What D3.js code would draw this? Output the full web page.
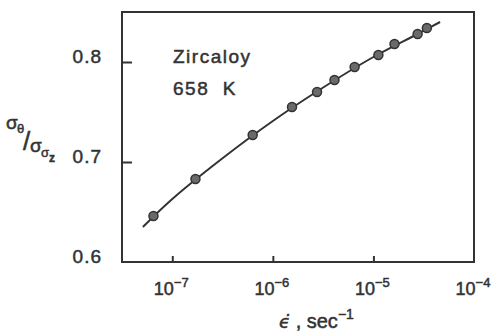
<!DOCTYPE html>
<html><head><meta charset="utf-8">
<script src="https://cdn.jsdelivr.net/npm/d3@7"></script>
<style>
html,body{margin:0;padding:0;background:#fff;}
svg{display:block;font-family:"Liberation Sans",Arial,sans-serif;}
svg text{stroke:#333;stroke-width:0.5px;}
</style></head>
<body>
<script>
// measured points: strain rate (1/s) and stress ratio
const strainRate = [6.5e-8, 1.7e-7, 6.3e-7, 1.55e-6, 2.75e-6, 4.1e-6, 6.5e-6, 1.12e-5, 1.62e-5, 2.75e-5, 3.4e-5];
const stressRatio = [0.646, 0.683, 0.727, 0.755, 0.770, 0.782, 0.795, 0.807, 0.818, 0.828, 0.834];
// fitted curve
const fitRate = [5.1e-8, 1e-7, 3e-7, 1e-6, 3e-6, 1e-5, 2.75e-5, 4.6e-5];
const fitRatio = [0.635, 0.663, 0.702, 0.741, 0.773, 0.805, 0.828, 0.840];
const xTicks = [1e-7, 1e-6, 1e-5, 1e-4];
const xTickExp = ["\u22127", "\u22126", "\u22125", "\u22124"];
const yTicks = [0.6, 0.7, 0.8];

const W = 498, H = 333;
const L = 122, R = 474, T = 12, B = 262;
const ink = "#333";

const svg = d3.select("body").append("svg").attr("width", W).attr("height", H);
const x = d3.scaleLog().domain([Math.pow(10, -7.5), 1e-4]).range([L, R]);
const y = d3.scaleLinear().domain([0.6, 0.85]).range([B, T]);

// frame
svg.append("rect").attr("x", L).attr("y", T).attr("width", R - L).attr("height", B - T)
  .attr("fill", "none").attr("stroke", ink).attr("stroke-width", 2);

// x axis ticks (inward)
const xa = svg.append("g").attr("transform", `translate(0,${B})`)
  .call(d3.axisBottom(x).tickValues(xTicks.slice(0, 3)).tickSize(-6).tickFormat(""));
xa.select(".domain").remove();
xa.selectAll("line").attr("stroke", ink).attr("stroke-width", 2);

// y axis ticks (inward)
const ya = svg.append("g").attr("transform", `translate(${L},0)`)
  .call(d3.axisLeft(y).tickValues(yTicks.slice(1)).tickSize(-10).tickFormat(""));
ya.select(".domain").remove();
ya.selectAll("line").attr("stroke", ink).attr("stroke-width", 2);

// x tick labels
xTicks.forEach((v, i) => {
  const t = svg.append("text").attr("x", x(v) - 1).attr("y", 295).attr("text-anchor", "middle")
    .attr("fill", ink).attr("font-size", 18);
  t.append("tspan").text("10");
  t.append("tspan").attr("font-size", 13).attr("dy", -8).text(xTickExp[i]);
});

// y tick labels
yTicks.forEach(v => {
  svg.append("text").attr("x", 102).attr("y", y(v) + 1).attr("text-anchor", "end")
    .attr("fill", ink).attr("font-size", 19).attr("letter-spacing", 1).text(v.toFixed(1));
});

// curve
const pts = fitRate.map((r, i) => [x(r), y(fitRatio[i])]);
svg.append("path").attr("d", d3.line().curve(d3.curveCatmullRom)(pts))
  .attr("fill", "none").attr("stroke", ink).attr("stroke-width", 2);

// points
svg.append("g").selectAll("circle").data(strainRate).join("circle")
  .attr("cx", d => x(d)).attr("cy", (d, i) => y(stressRatio[i])).attr("r", 4.5)
  .attr("fill", "#6a6a6a").attr("stroke", ink).attr("stroke-width", 1.5);

// annotations
svg.append("text").attr("x", 173).attr("y", 63).attr("fill", ink).attr("font-size", 19)
  .attr("letter-spacing", 1.5).text("Zircaloy");
svg.append("text").attr("x", 173).attr("y", 95).attr("fill", ink).attr("font-size", 19)
  .attr("letter-spacing", 1.5).style("white-space", "pre").text("658  K");

// y label sigma_theta / sigma_sigma_z
const yl = svg.append("g").attr("fill", ink);
yl.append("text").attr("x", 6).attr("y", 129).attr("font-size", 19).text("\u03c3");
yl.append("text").attr("x", 17).attr("y", 133).attr("font-size", 13).text("\u03b8");
yl.append("text").attr("x", 23).attr("y", 150).attr("font-size", 26).attr("font-weight", "normal").text("/");
yl.append("text").attr("x", 30).attr("y", 152).attr("font-size", 19).text("\u03c3");
yl.append("text").attr("x", 41).attr("y", 157).attr("font-size", 13).text("\u03c3");
yl.append("text").attr("x", 49).attr("y", 162).attr("font-size", 12).attr("font-weight", "bold").text("z");

// x title: epsilon-dot , sec^-1
const xt = svg.append("text").attr("x", 279).attr("y", 328).attr("fill", ink).attr("font-size", 20);
xt.append("tspan").attr("font-family", "'DejaVu Sans'").attr("font-style", "italic").attr("font-size", 18).text("\u03f5\u0307");
xt.append("tspan").text(" , sec");
xt.append("tspan").attr("font-size", 14).attr("dy", -9).text("\u22121");
</script>
</body></html>
